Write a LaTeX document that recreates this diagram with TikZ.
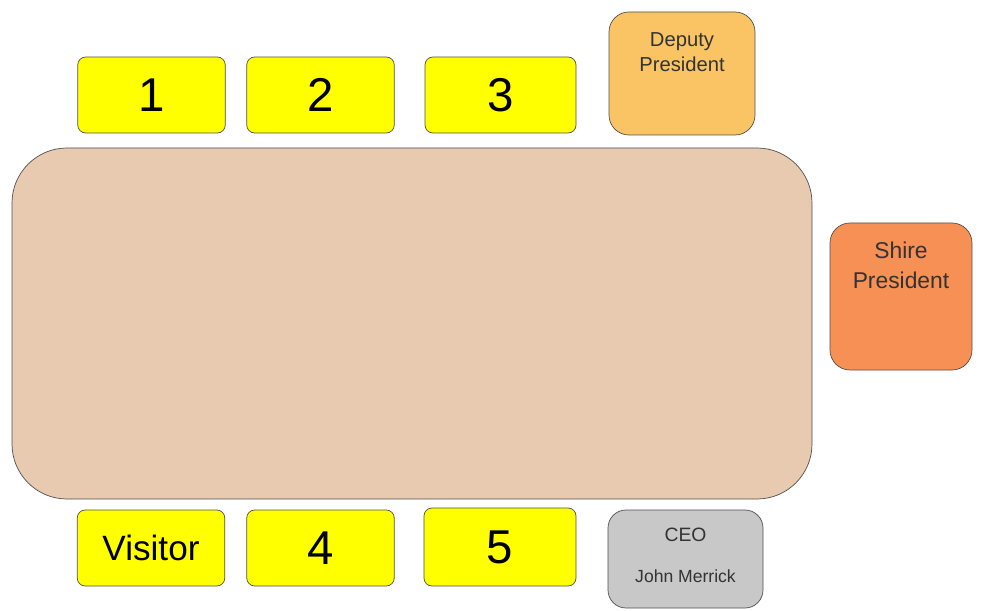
\documentclass[tikz,border=0pt]{standalone}
\usepackage{fontspec}
\setmainfont{Liberation Sans}
\usepackage{tikz}
\usetikzlibrary{positioning}
\usepackage{xcolor}
\definecolor{tablebeige}{RGB}{232, 202, 176}
\definecolor{seatyellow}{RGB}{255, 255, 0}
\definecolor{deputyorange}{RGB}{250, 196, 100}
\definecolor{shireorange}{RGB}{247, 144, 84}
\definecolor{ceogray}{RGB}{200, 200, 200}
\definecolor{edgegray}{RGB}{80, 80, 80}

\tikzset{
    seat/.style={draw=edgegray, fill=seatyellow, rounded corners=0.16cm, minimum width=2.95cm, minimum height=1.52cm, inner sep=0pt},
    chair/.style={draw=edgegray, rounded corners=0.4cm, inner sep=0pt},
    seatnum/.style={font=\fontsize{27}{30}\selectfont},
    chairname/.style={align=center, text=black!80}
}

\begin{document}
\begin{tikzpicture}
    \useasboundingbox (0,0) rectangle (19.88,12.2);
    
    % Table
    \draw[edgegray, fill=tablebeige, rounded corners=1.1cm] (0.24,2.22) rectangle (16.24,9.24);
    
    % Top row
    \node[seat] (s1) at (3.03,10.3) {};
    \node[seatnum] (n1) at (s1) {1};
    \node[seat] (s2) at (6.41,10.3) {};
    \node[seatnum] (n2) at (s2) {2};
    \node[seat, minimum width=3.02cm] (s3) at (10.01,10.3) {};
    \node[seatnum] (n3) at (s3) {3};
    
    \node[chair, fill=deputyorange, minimum width=2.92cm, minimum height=2.46cm] (dep) at (13.64,10.73) {};
    \node[chairname, font=\fontsize{11.5}{14.2}\selectfont] (deptext) at (13.64,11.16) {Deputy\\President};
    
    % Head of table
    \node[chair, fill=shireorange, minimum width=2.84cm, minimum height=2.94cm] (shire) at (18.02,6.27) {};
    \node[chairname, font=\fontsize{13}{17}\selectfont] (shiretext) at (18.02,6.9) {Shire\\President};
    
    % Bottom row
    \node[seat] (vis) at (3.02,1.24) {};
    \node[font=\fontsize{20}{24}\selectfont] (vistext) at (vis) {Visitor};
    \node[seat] (s4) at (6.41,1.24) {};
    \node[seatnum] (n4) at (s4) {4};
    \node[seat, minimum width=3.04cm, minimum height=1.56cm] (s5) at (10.0,1.26) {};
    \node[seatnum] (n5) at (s5) {5};
    
    \node[chair, fill=ceogray, rounded corners=0.36cm, minimum width=3.1cm, minimum height=1.96cm] (ceo) at (13.71,1.02) {};
    \node[chairname, font=\fontsize{11}{13}\selectfont] (ceotext) at (13.71,1.5) {CEO};
    \node[chairname, font=\fontsize{10}{12}\selectfont] (ceoname) at (13.71,0.68) {John Merrick};
\end{tikzpicture}
\end{document}
